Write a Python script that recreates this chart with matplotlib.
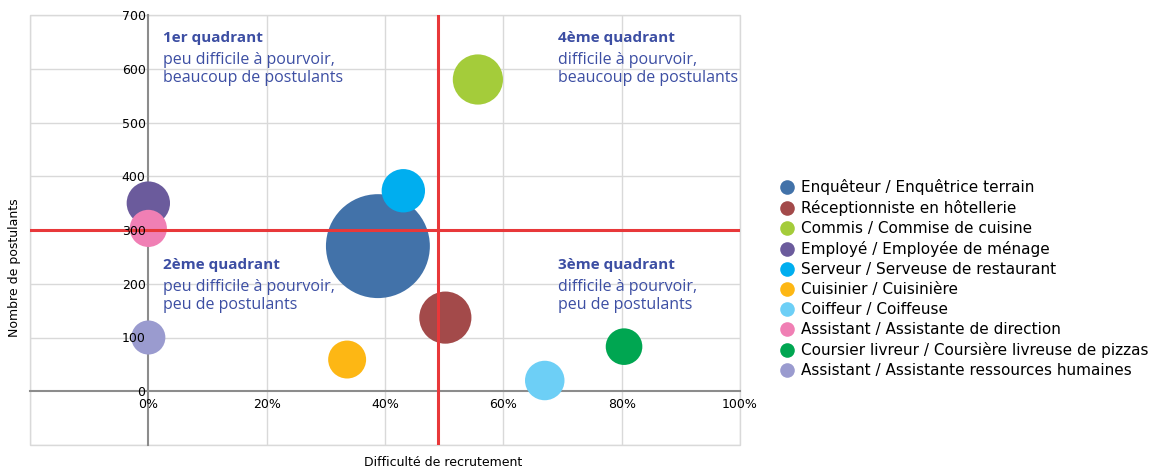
import matplotlib
matplotlib.use("Agg")
import matplotlib.pyplot as plt
from matplotlib.lines import Line2D
from matplotlib.patches import Rectangle
import numpy as np

metiers = [
    "Enquêteur / Enquêtrice terrain",
    "Réceptionniste en hôtellerie",
    "Commis / Commise de cuisine",
    "Employé / Employée de ménage",
    "Serveur / Serveuse de restaurant",
    "Cuisinier / Cuisinière",
    "Coiffeur / Coiffeuse",
    "Assistant / Assistante de direction",
    "Coursier livreur / Coursière livreuse de pizzas",
    "Assistant / Assistante ressources humaines",
]
difficulte = [0.388, 0.502, 0.557, 0.0, 0.431, 0.336, 0.670, 0.0, 0.804, 0.0]
postulants = [270, 137, 580, 350, 373, 59, 20, 303, 83, 100]
taille = [2700, 680, 630, 470, 470, 360, 390, 345, 335, 290]
couleurs = ["#4272a9", "#a34a4a", "#a4cc3a", "#6b5b9c", "#00aeef",
            "#fdb714", "#6dcff6", "#f07fb4", "#00a651", "#9a9bcf"]

seuil_x = 0.49
seuil_y = 300

x_ticks = [0, 0.2, 0.4, 0.6, 0.8, 1.0]
x_labels = ["0%", "20%", "40%", "60%", "80%", "100%"]
y_ticks = [0, 100, 200, 300, 400, 500, 600, 700]

quadrants = [
    (0.024, 670, "1er quadrant", "peu difficile à pourvoir,\nbeaucoup de postulants"),
    (0.693, 670, "4ème quadrant", "difficile à pourvoir,\nbeaucoup de postulants"),
    (0.024, 247, "2ème quadrant", "peu difficile à pourvoir,\npeu de postulants"),
    (0.693, 247, "3ème quadrant", "difficile à pourvoir,\npeu de postulants"),
]

W, H = 1152, 471
fig = plt.figure(figsize=(W / 100, H / 100), dpi=100)
ax = fig.add_axes([30 / W, 1 - 445 / H, 710 / W, 430 / H])
ax.set_xlim(-0.2, 1.0)
ax.set_ylim(-100, 700)

# grid
for gx in [-0.2, 0.2, 0.4, 0.6, 0.8, 1.0]:
    ax.axvline(gx, color="#d9d9d9", lw=1, zorder=0)
for gy in [-100, 100, 200, 300, 400, 500, 600, 700]:
    ax.axhline(gy, color="#d9d9d9", lw=1, zorder=0)
ax.add_patch(Rectangle((0, 0), 1, 1, transform=ax.transAxes, fill=False,
                       edgecolor="#d9d9d9", lw=1, zorder=0, clip_on=False))

for s in ["top", "right"]:
    ax.spines[s].set_visible(False)
ax.spines["left"].set_position(("data", 0))
ax.spines["bottom"].set_position(("data", 0))
for s in ["left", "bottom"]:
    ax.spines[s].set_color("#8c8c8c")
    ax.spines[s].set_linewidth(1.5)
    ax.spines[s].set_zorder(1)

ax.set_xticks(x_ticks)
ax.set_xticklabels(x_labels)
ax.set_yticks(y_ticks)
ax.tick_params(axis="both", length=0, labelsize=9, colors="black")
ax.tick_params(axis="x", pad=5)
ax.tick_params(axis="y", pad=2)
ax.xaxis.set_zorder(10)
ax.yaxis.set_zorder(10)

rad_px = np.sqrt(taille)  # approximate radius in px
sizes = (2 * rad_px * 0.72) ** 2

for i in range(len(metiers)):
    ax.scatter(difficulte[i], postulants[i], s=sizes[i], color=couleurs[i],
               edgecolors="none", zorder=3, clip_on=False)

ax.axvline(seuil_x, color="#e8383a", lw=2.2, zorder=5)
ax.axhline(seuil_y, color="#e8383a", lw=2.2, zorder=5)

qcol = "#3c4ea3"
for qx, qy, title, body in quadrants:
    ax.text(qx, qy, title, color=qcol, fontsize=11, fontweight="bold",
            va="top", ha="left", zorder=6, family="Open Sans")
    ax.text(qx, qy - 38, body, color=qcol, fontsize=11.5, va="top", ha="left",
            zorder=6, family="Open Sans", linespacing=1.2)

fig.text(15 / W, 1 - 268 / H, "Nombre de postulants", rotation=90,
         ha="center", va="center", fontsize=9)
fig.text(443 / W, 1 - 462 / H, "Difficulté de recrutement",
         ha="center", va="center", fontsize=9)

handles = [Line2D([], [], marker="o", ls="none", markersize=10.5,
                  markerfacecolor=c, markeredgecolor="none") for c in couleurs]
fig.legend(handles, metiers, loc="upper left",
           bbox_to_anchor=(778 / W, 1 - 179 / H), frameon=False,
           fontsize=11, labelspacing=0.33, handletextpad=0.3,
           handlelength=1.2, borderaxespad=0, borderpad=0)

fig.savefig("out.png", dpi=100)
